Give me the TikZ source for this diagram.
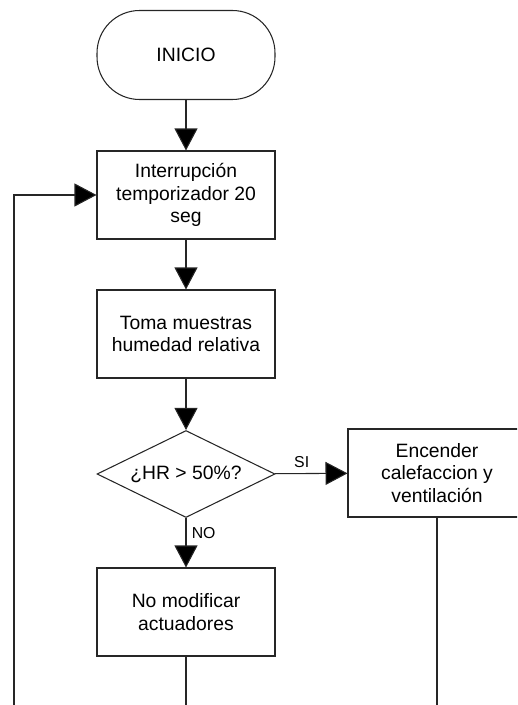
\documentclass[tikz,border=0pt]{standalone}
\usepackage{fontspec}
\setmainfont{Liberation Sans}
\usepackage{tikz}
\usetikzlibrary{arrows.meta,shapes.geometric}

\begin{document}
\begin{tikzpicture}[x=0.02cm, y=-0.02cm,
  >={Triangle[length=4.4mm,width=4.6mm,fill=black]},
  line/.style={draw=black!85, line width=0.6pt},
  blk/.style={line, rectangle, minimum width=3.56cm, minimum height=1.76cm,
    align=center, inner sep=2pt, font=\fontsize{11}{13}\selectfont},
  term/.style={blk, rounded corners=0.85cm, minimum height=1.78cm},
  dec/.style={line, diamond, aspect=2, minimum width=3.56cm, minimum height=1.74cm,
    inner sep=0pt, font=\fontsize{11}{13}\selectfont},
  lbl/.style={font=\fontsize{9}{10}\selectfont, inner sep=1pt}]
  \useasboundingbox (0,0) rectangle (517,705);
  \clip (0,0) rectangle (517,705);
  \node[term] (ini) at (186,55) {INICIO};
  \node[blk] (tmr) at (186,195) {Interrupción\\temporizador 20\\seg};
  \node[blk] (mst) at (186,334) {Toma muestras\\humedad relativa};
  \node[dec] (hr) at (186,474) {¿HR > 50\%?};
  \node[blk] (enc) at (437,473) {Encender\\calefaccion y\\ventilación};
  \node[blk] (nom) at (186,612) {No modificar\\actuadores};
  \coordinate (lpB) at (14,706);
  \coordinate (nomB) at (186,706);
  \coordinate (encB) at (437,706);
  \draw[line,->] (ini)--(tmr);
  \draw[line,->] (tmr)--(mst);
  \draw[line,->] (mst)--(hr);
  \draw[line,->] (hr)--(enc) node[lbl,pos=0.37,above,yshift=2pt]{SI};
  \draw[line,->] (hr)--(nom) node[lbl,pos=0.3,right,xshift=2pt]{NO};
  \draw[line] (nom)--(nomB);
  \draw[line] (enc)--(encB);
  \draw[line,->] (lpB)|-(tmr);
\end{tikzpicture}
\end{document}
